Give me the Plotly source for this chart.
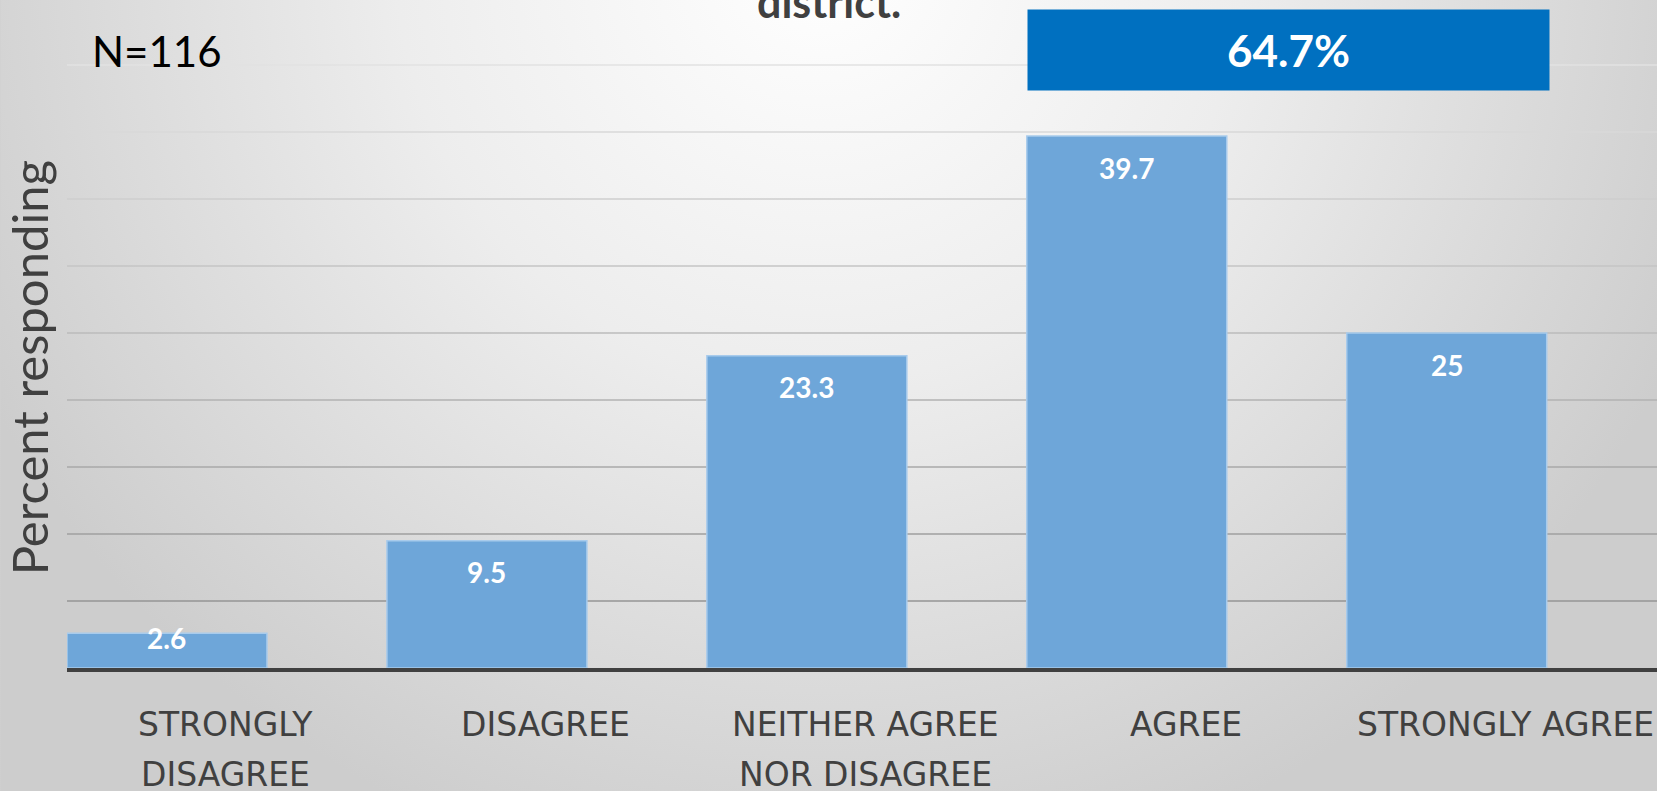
import base64
import plotly.graph_objects as go

# ---- data ----
categories = ["STRONGLY<br>DISAGREE", "DISAGREE", "NEITHER AGREE<br>NOR DISAGREE", "AGREE", "STRONGLY AGREE"]
percent = [2.6, 9.5, 23.3, 39.7, 25]
grid_ticks = [5, 10, 15, 20, 25, 30, 35, 40, 45]
sample_note = "N=116"
title_tail = "district."
agree_labels = ["AGREE", "STRONGLY AGREE"]

W, H = 1657, 791
ML, MB = 66.7, 123
PW, PH = W - ML, H - MB
px_per_unit = 13.4
y_top = PH / px_per_unit

fig = go.Figure()
fig.add_trace(go.Bar(
    x=list(range(len(categories))), y=percent,
    marker=dict(color="#6EA6D9", line=dict(color="#A8CBEC", width=1.5)),
    width=0.625, hoverinfo="skip",
))

# gradient background via svg
svg = f'''<svg xmlns="http://www.w3.org/2000/svg" width="{W}" height="{H}">
<defs><radialGradient id="g" gradientUnits="userSpaceOnUse" cx="820" cy="-40" r="940">
<stop offset="0" stop-color="#ffffff"/><stop offset="0.45" stop-color="#ededed"/>
<stop offset="1" stop-color="#cdcdcd"/></radialGradient></defs>
<rect width="{W}" height="{H}" fill="url(#g)"/></svg>'''
src = "data:image/svg+xml;base64," + base64.b64encode(svg.encode()).decode()
fig.add_layout_image(dict(source=src, xref="paper", yref="paper",
                          x=-ML / PW, y=1.0, sizex=W / PW, sizey=H / PH,
                          xanchor="left", yanchor="top", sizing="stretch", layer="below"))

# gridlines with vertical fade
light, dark = (226, 226, 226), (140, 140, 140)
for t in grid_ticks:
    f = 1 - t / 45
    c = tuple(int(light[i] + (dark[i] - light[i]) * f) for i in range(3))
    fig.add_shape(type="line", xref="paper", yref="y", x0=0, x1=1, y0=t, y1=t,
                  line=dict(color=f"rgb{c}", width=1.5), layer="below")

# bar value labels
off_units = 31.5 / px_per_unit
min_units = 30 / px_per_unit
for i, v in enumerate(percent):
    fig.add_annotation(x=i, y=max(v - off_units, min_units), xref="x", yref="y",
                       text=f"{v:g}", showarrow=False, yanchor="middle",
                       font=dict(family="Lato", size=28, color="white", weight="bold"))

# category labels (lines)
for i, c in enumerate(categories):
    for j, line in enumerate(c.split("<br>")):
        fig.add_annotation(x=i, y=-(56 + 50 * j) / PH, xref="x", yref="paper",
                           text=line, showarrow=False, xshift=59, yanchor="middle",
                           font=dict(family="DejaVu Sans", size=33, color="#404040"))

# y title
fig.add_annotation(x=(29 - ML) / PW, y=1 - 368 / PH, xref="paper", yref="paper",
                   text="Percent responding", textangle=-90, showarrow=False,
                   xanchor="center", yanchor="middle",
                   font=dict(family="Lato", size=49, color="#404040"))

# N note
fig.add_annotation(x=(90 - ML) / PW, y=1 - 51 / PH, xref="paper", yref="paper",
                   text=sample_note, showarrow=False, xanchor="left", yanchor="middle",
                   font=dict(family="Lato", size=42, color="black"))

# title tail (cut off at top)
fig.add_annotation(x=(829 - ML) / PW, y=1 - 2 / PH, xref="paper", yref="paper",
                   text=title_tail, showarrow=False, xanchor="center", yanchor="middle",
                   font=dict(family="Lato", size=43, color="#404040", weight="bold"))

# agree total box
agree_total = sum(percent[categories.index(a)] for a in agree_labels)
fig.add_annotation(x=(1288.5 - ML) / PW, y=1 - 50 / PH, xref="paper", yref="paper",
                   text=f"{agree_total:.1f}%", showarrow=False, xanchor="center", yanchor="middle",
                   width=519, height=78, bgcolor="#0070C0",
                   font=dict(family="Lato", size=44, color="white", weight="bold"))

fig.update_layout(
    width=W, height=H, margin=dict(l=ML, r=0, t=0, b=MB, pad=0),
    paper_bgcolor="#d0d0d0", plot_bgcolor="rgba(0,0,0,0)",
    showlegend=False, bargap=0.375,
    xaxis=dict(range=[-0.3125, -0.3125 + PW / 320],
               showgrid=False, zeroline=False, showticklabels=False, ticks="",
               showline=True, linecolor="#404040", linewidth=4, fixedrange=True),
    yaxis=dict(range=[0, y_top], showgrid=False, zeroline=False, showticklabels=False,
               ticks="", showline=False, fixedrange=True),
)

fig.write_html("out.html", config={"displayModeBar": False},
               post_script="document.body.style.margin='0';document.body.style.overflow='hidden';")
